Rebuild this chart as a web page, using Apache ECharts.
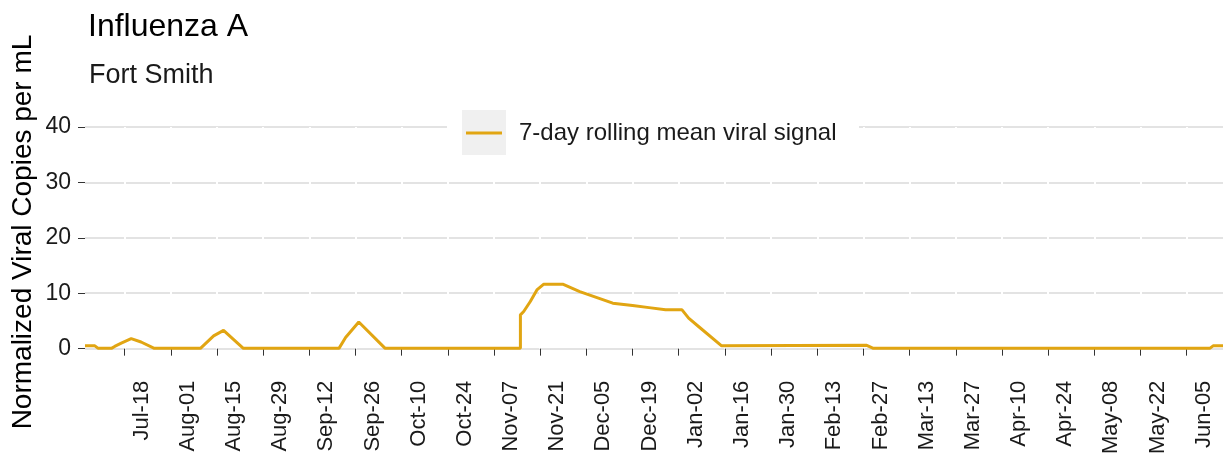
<!DOCTYPE html>
<html>
<head>
<meta charset="utf-8">
<title>Influenza A - Fort Smith</title>
<script src="https://cdn.jsdelivr.net/npm/echarts@6/dist/echarts.min.js"></script>
<style>
  html, body { margin: 0; padding: 0; background: #fff; }
  #main { width: 1225px; height: 457px; }
</style>
</head>
<body>
<div id="main"></div>
<script>
// first and last day shown on the x axis
var startDate = '2022-07-06';
var endDate = '2023-06-16';

// 7-day rolling mean at the corners of the line
var keyDates = ['2022-07-06','2022-07-09','2022-07-10','2022-07-14','2022-07-15','2022-07-17','2022-07-20','2022-07-23','2022-07-27',
    '2022-08-10','2022-08-14','2022-08-17','2022-08-23',
    '2022-09-21','2022-09-23','2022-09-27','2022-10-05',
    '2022-11-15','2022-11-15','2022-11-16','2022-11-18','2022-11-20','2022-11-22','2022-11-28',
    '2022-12-03','2022-12-13','2022-12-19','2022-12-24','2022-12-29','2023-01-03','2023-01-05','2023-01-08','2023-01-15',
    '2023-02-28','2023-03-02','2023-06-12','2023-06-13','2023-06-16'];
var keyValues = [0.5,0.5,0.05,0.05,0.4,1.0,1.8,1.2,0.05,
    0.05,2.3,3.3,0.05,
    0.05,2.0,4.8,0.05,
    0.05,6.1,6.7,8.5,10.6,11.6,11.6,
    10.3,8.2,7.8,7.4,7.0,7.0,5.5,4.0,0.5,
    0.6,0.05,0.05,0.5,0.5];

// first labelled tick (Jul-18) and spacing of the ticks in days
var firstTick = '2022-07-18';
var tickStep = 14;

var yTicks = [0, 10, 20, 30, 40];

var months = ['Jan','Feb','Mar','Apr','May','Jun','Jul','Aug','Sep','Oct','Nov','Dec'];
var DAY = 86400000;
function toMs(s) {
    var p = s.split('-');
    return Date.UTC(+p[0], +p[1] - 1, +p[2]);
}
function fmt(ms) {
    var d = new Date(ms);
    var dd = d.getUTCDate();
    return months[d.getUTCMonth()] + '-' + (dd < 10 ? '0' + dd : dd);
}

var days = [];
for (var t = toMs(startDate); t <= toMs(endDate); t += DAY) {
    days.push(fmt(t));
}
var tickOffset = Math.round((toMs(firstTick) - toMs(startDate)) / DAY);
function onTick(index) {
    return index >= tickOffset && (index - tickOffset) % tickStep === 0;
}

var lineData = [];
for (var i = 0; i < keyDates.length; i++) {
    lineData.push([Math.round((toMs(keyDates[i]) - toMs(startDate)) / DAY), keyValues[i]]);
}

var font = "'Liberation Sans', Arial, sans-serif";
var gold = '#E1A512';

var option = {
    animation: false,
    title: [
        {
            text: 'Influenza A',
            left: 83,
            top: 6,
            textStyle: { color: '#000', fontFamily: font, fontSize: 32, fontWeight: 'normal' }
        },
        {
            text: 'Fort Smith',
            left: 84,
            top: 57,
            textStyle: { color: '#1a1a1a', fontFamily: font, fontSize: 27, fontWeight: 'normal' }
        }
    ],
    graphic: [
        {
            type: 'rect',
            z: 3,
            shape: { x: 447, y: 108, width: 412, height: 50 },
            style: { fill: '#fff' }
        },
        {
            type: 'rect',
            z: 3,
            shape: { x: 462, y: 110, width: 44, height: 45 },
            style: { fill: '#f0f0f0' }
        },
        {
            type: 'text',
            x: 23.5,
            y: 232,
            rotation: Math.PI / 2,
            style: {
                text: 'Normalized Viral Copies per mL',
                fill: '#000',
                font: '28px ' + font,
                align: 'center',
                verticalAlign: 'middle'
            }
        }
    ],
    legend: {
        data: [{ name: '7-day rolling mean viral signal', icon: 'rect' }],
        left: 466,
        top: 121,
        padding: 0,
        itemWidth: 36,
        itemHeight: 3,
        z: 4,
        itemStyle: { color: gold },
        textStyle: {
            color: '#1a1a1a',
            fontFamily: font,
            fontSize: 24,
            padding: [0, 0, 0, 12]
        }
    },
    grid: {
        left: 85,
        right: 2,
        top: 127,
        bottom: 106,
        containLabel: false
    },
    xAxis: {
        type: 'category',
        data: days,
        boundaryGap: false,
        offset: 11,
        z: 1,
        axisLine: { show: false },
        axisTick: {
            show: true,
            interval: onTick,
            length: 7,
            lineStyle: { color: '#333', width: 1 }
        },
        axisLabel: {
            interval: onTick,
            rotate: 90,
            margin: 21,
            verticalAlign: 'top',
            padding: [6, 0, 0, 0],
            color: '#1a1a1a',
            fontFamily: font,
            fontSize: 22
        },
        splitLine: {
            show: true,
            interval: onTick,
            lineStyle: { color: '#fff', width: 2 }
        }
    },
    yAxis: {
        type: 'value',
        min: yTicks[0],
        max: yTicks[yTicks.length - 1],
        interval: yTicks[1] - yTicks[0],
        axisLine: { show: false },
        axisTick: {
            show: true,
            length: 7,
            lineStyle: { color: '#333', width: 1 }
        },
        axisLabel: {
            margin: 14,
            color: '#1a1a1a',
            fontFamily: font,
            fontSize: 23
        },
        splitLine: {
            show: true,
            lineStyle: { color: '#dadada', width: 1.5 }
        }
    },
    series: [
        {
            name: '7-day rolling mean viral signal',
            type: 'line',
            symbol: 'none',
            showSymbol: false,
            z: 5,
            lineStyle: { color: gold, width: 3 },
            itemStyle: { color: gold },
            data: lineData
        }
    ]
};

var chart = echarts.init(document.getElementById('main'));
chart.setOption(option, true);
</script>
</body>
</html>
